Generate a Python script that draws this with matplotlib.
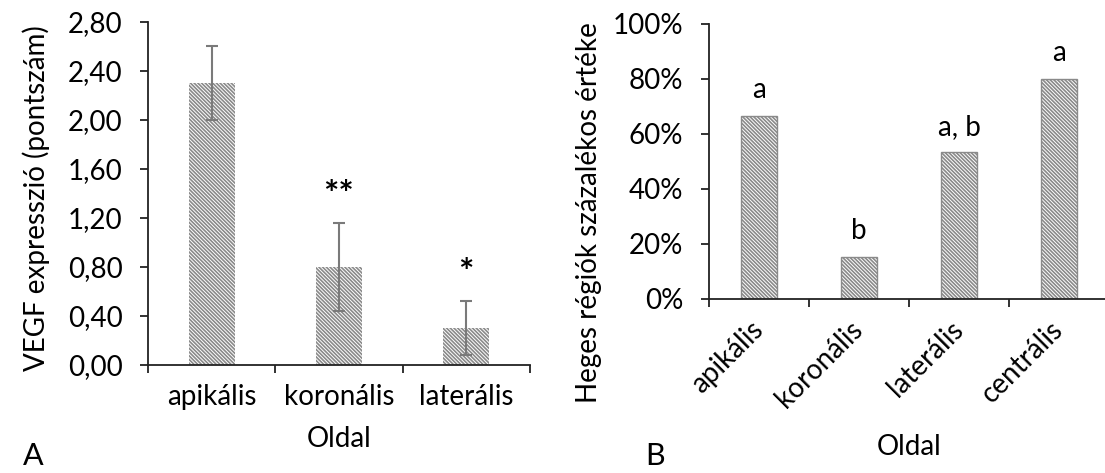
import matplotlib

matplotlib.use("Agg")
import matplotlib.pyplot as plt
from matplotlib.ticker import FuncFormatter

# ==========================================
# Data
# ==========================================
cats_a = ["apikális", "koronális", "laterális"]
vegf = [2.30, 0.80, 0.30]
vegf_err = [0.30, 0.36, 0.22]
sig_a = ["", "**", "*"]
yticks_a = [0.0, 0.4, 0.8, 1.2, 1.6, 2.0, 2.4, 2.8]

cats_b = ["apikális", "koronális", "laterális", "centrális"]
heges = [66.7, 15.4, 53.3, 80.0]
letters_b = ["a", "b", "a, b", "a"]
yticks_b = [0, 20, 40, 60, 80, 100]

plt.rcParams["font.family"] = ["Lato", "DejaVu Sans"]
plt.rcParams["hatch.linewidth"] = 1.2

FS = 20
AXC = "#222222"
HATCH = "\\" * 9

fig = plt.figure(figsize=(11.05, 4.73), dpi=100)
ax_a = fig.add_axes([0.134, 0.2283, 0.3456, 0.7252])
ax_b = fig.add_axes([0.6416, 0.3679, 0.3620, 0.5814])


def style_axes(ax, n):
    for side in ("top", "right"):
        ax.spines[side].set_visible(False)
    for side in ("left", "bottom"):
        ax.spines[side].set_color(AXC)
        ax.spines[side].set_linewidth(1.3)
    ax.set_xlim(-0.5, n - 0.5)
    # category boundaries as tick marks (Excel style)
    ax.set_xticks([i - 0.5 for i in range(n + 1)], minor=False)
    ax.set_xticklabels([""] * (n + 1))
    ax.tick_params(axis="x", which="major", direction="out", length=5.5, width=1.3, color=AXC)
    ax.set_xticks(range(n), minor=True)
    ax.tick_params(axis="x", which="minor", length=0, labelsize=FS, pad=14)
    ax.tick_params(axis="y", direction="out", length=5.5, width=1.3, color=AXC,
                   labelsize=FS, pad=13)


# ==================== Panel A ====================
x_a = range(len(cats_a))
ax_a.bar(x_a, vegf, width=0.36, color="white", edgecolor="#8a8a8a",
         linewidth=0, hatch=HATCH)
ax_a.errorbar(x_a, vegf, yerr=vegf_err, fmt="none", ecolor="#7a7a7a",
              elinewidth=1.5, capsize=4, capthick=1.5)
for i, s in enumerate(sig_a):
    if s:
        ax_a.annotate(s, (i, vegf[i] + vegf_err[i]), xytext=(0, 8),
                      textcoords="offset points", ha="center", va="bottom",
                      fontsize=26, fontweight="bold")
style_axes(ax_a, len(cats_a))
ax_a.set_xticklabels(cats_a, minor=True)
ax_a.set_ylim(0, 2.8)
ax_a.set_yticks(yticks_a)
ax_a.yaxis.set_major_formatter(FuncFormatter(lambda v, p: f"{v:.2f}".replace(".", ",")))
ax_a.set_xlabel("Oldal", fontsize=FS)
ax_a.xaxis.set_label_coords(0.5, -0.178)
ax_a.set_ylabel("VEGF expresszió (pontszám)", fontsize=FS)
ax_a.yaxis.set_label_coords(-0.257, 0.487)
fig.text(0.030, 0.035, "A", fontsize=22, ha="center", va="center")

# ==================== Panel B ====================
x_b = range(len(cats_b))
ax_b.bar(x_b, heges, width=0.36, color="white", edgecolor="#8a8a8a",
         linewidth=1.0, hatch=HATCH)
for i, lab in enumerate(letters_b):
    ax_b.annotate(lab, (i, heges[i]), xytext=(0, 9),
                  textcoords="offset points", ha="center", va="bottom", fontsize=FS)
style_axes(ax_b, len(cats_b))
ax_b.set_xticklabels(cats_b, minor=True, rotation=45, ha="right", va="center",
                     rotation_mode="anchor")
ax_b.tick_params(axis="x", which="minor", pad=19)
ax_b.set_ylim(0, 100)
ax_b.set_yticks(yticks_b)
ax_b.yaxis.set_major_formatter(FuncFormatter(lambda v, p: f"{v:.0f}%"))
ax_b.set_xlabel("Oldal", fontsize=FS)
ax_b.xaxis.set_label_coords(0.5, -0.49)
ax_b.set_ylabel("Heges régiók százalékos értéke", fontsize=FS)
ax_b.yaxis.set_label_coords(-0.268, 0.316)
fig.text(0.593, 0.035, "B", fontsize=22, ha="center", va="center")

fig.savefig("out.png", dpi=100)
